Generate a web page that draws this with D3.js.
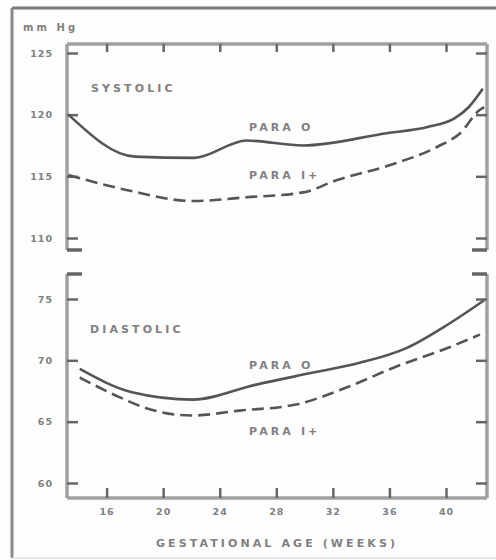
<!DOCTYPE html>
<html>
<head>
<meta charset="utf-8">
<script src="https://cdn.jsdelivr.net/npm/d3@7"></script>
<style>
  body { margin: 0; background: #fdfdfd; }
  text { font-family: "DejaVu Sans", sans-serif; font-weight: bold; fill: #808080; letter-spacing: 3.1px; }
  .tick text { letter-spacing: 1px; }
</style>
</head>
<body>
<script>
'use strict';

// gestational week / mm Hg pairs
let sysParaO = [[13.3, 120.0], [18.0, 116.6], [22.2, 116.5], [25.9, 117.9], [29.9, 117.5],
  [35.8, 118.5], [38.7, 119.0], [40.6, 119.7], [41.6, 120.6], [42.6, 122.1]];
let sysParaI = [[13.3, 115.1], [17.4, 113.9], [22.1, 113.0], [25.9, 113.3], [29.9, 113.7],
  [32.3, 114.7], [36.0, 115.9], [39.4, 117.4], [41.0, 118.5], [42.4, 120.4], [42.7, 120.6]];
let diaParaO = [[14.1, 69.3], [17.8, 67.4], [22.1, 66.8], [26.5, 68.0], [30.6, 69.0],
  [33.9, 69.8], [37.2, 71.0], [40.1, 72.9], [42.7, 74.9]];
let diaParaI = [[14.1, 68.6], [16.9, 67.0], [18.8, 66.1], [22.0, 65.5], [25.4, 65.9],
  [29.4, 66.4], [33.0, 67.8], [36.5, 69.5], [40.1, 71.0], [42.4, 72.1]];

let weekTicks = [16, 20, 24, 28, 32, 36, 40];
let sysTicks = [110, 115, 120, 125];
let diaTicks = [60, 65, 70, 75];

let W = 496, H = 560;
let left = 67, right = 487;

let svg = d3.select('body').append('svg').attr('width', W).attr('height', H);

// outer frame of the scanned figure
svg.append('line').attr('x1', 12).attr('x2', W).attr('y1', 8).attr('y2', 8)
  .attr('stroke', '#7a7a7a').attr('stroke-width', 3);
svg.append('line').attr('x1', 12).attr('x2', 12).attr('y1', 8).attr('y2', 558)
  .attr('stroke', '#8a8a8a').attr('stroke-width', 3);
svg.append('line').attr('x1', 12).attr('x2', W).attr('y1', 558).attr('y2', 558)
  .attr('stroke', '#dddddd').attr('stroke-width', 1.5);

let x = d3.scaleLinear().domain([13.2, 42.9]).range([left, right]);
let ySys = d3.scaleLinear().domain([110, 125]).range([238, 53]);
let yDia = d3.scaleLinear().domain([60, 75]).range([483, 299]);

let axisColor = '#a0a0a0', tickColor = '#666';

function frame(top, bottom, openTop) {
  let g = svg.append('g').attr('fill', 'none').attr('stroke', axisColor).attr('stroke-width', 3.5);
  g.append('line').attr('x1', left).attr('x2', left).attr('y1', top).attr('y2', bottom);
  g.append('line').attr('x1', right).attr('x2', right).attr('y1', top).attr('y2', bottom);
  if (openTop) {
    g.append('line').attr('x1', left).attr('x2', right).attr('y1', bottom).attr('y2', bottom);
    g.append('line').attr('x1', left).attr('x2', left + 15).attr('y1', top).attr('y2', top).attr('stroke', tickColor);
    g.append('line').attr('x1', right - 15).attr('x2', right).attr('y1', top).attr('y2', top).attr('stroke', tickColor);
  } else {
    g.append('line').attr('x1', left).attr('x2', right).attr('y1', top).attr('y2', top);
    g.append('line').attr('x1', left).attr('x2', left + 15).attr('y1', bottom).attr('y2', bottom).attr('stroke', tickColor);
    g.append('line').attr('x1', right - 15).attr('x2', right).attr('y1', bottom).attr('y2', bottom).attr('stroke', tickColor);
  }
}
frame(44, 250, false);
frame(274, 498, true);

function styleAxis(g) {
  g.select('.domain').remove();
  g.selectAll('.tick line').attr('stroke', tickColor).attr('stroke-width', 2.5);
  g.selectAll('.tick text').attr('font-size', 9.5).attr('fill', '#808080')
    .attr('font-family', '"DejaVu Sans", sans-serif');
}

// systolic panel axes
svg.append('g').attr('transform', `translate(${left},0)`)
  .call(d3.axisLeft(ySys).tickValues(sysTicks).tickSize(-11).tickPadding(14)).call(styleAxis);
svg.append('g').attr('transform', `translate(${right},0)`)
  .call(d3.axisRight(ySys).tickValues(sysTicks).tickSize(-11).tickFormat('')).call(styleAxis);
svg.append('g').attr('transform', 'translate(0,44)')
  .call(d3.axisTop(x).tickValues(weekTicks).tickSize(-8).tickFormat('')).call(styleAxis);

// diastolic panel axes
svg.append('g').attr('transform', `translate(${left},0)`)
  .call(d3.axisLeft(yDia).tickValues(diaTicks).tickSize(-11).tickPadding(14)).call(styleAxis);
svg.append('g').attr('transform', `translate(${right},0)`)
  .call(d3.axisRight(yDia).tickValues(diaTicks).tickSize(-11).tickFormat('')).call(styleAxis);
svg.append('g').attr('transform', 'translate(0,498)')
  .call(d3.axisBottom(x).tickValues(weekTicks).tickSize(-10).tickPadding(10)).call(styleAxis);

// curves
function curve(data, y, dashed) {
  let lineGen = d3.line().curve(d3.curveMonotoneX).x(d => x(d[0])).y(d => y(d[1]));
  svg.append('path').datum(data)
    .attr('fill', 'none').attr('stroke', '#555').attr('stroke-width', 2.6)
    .attr('stroke-dasharray', dashed ? '12,6' : null)
    .attr('d', lineGen);
}
curve(sysParaO, ySys, false);
curve(sysParaI, ySys, true);
curve(diaParaO, yDia, false);
curve(diaParaI, yDia, true);

// labels
function label(txt, px, py, size, anchor) {
  svg.append('text').attr('x', px).attr('y', py).attr('font-size', size || 11)
    .attr('text-anchor', anchor || 'start').text(txt);
}
label('mm Hg', 23, 31, 10);
label('SYSTOLIC', 91, 92);
label('PARA O', 249, 131);
label('PARA I+', 249, 179);
label('DIASTOLIC', 90, 333);
label('PARA O', 249, 369);
label('PARA I+', 249, 435);
label('GESTATIONAL AGE (WEEKS)', 277, 547, 11, 'middle');
</script>
</body>
</html>
